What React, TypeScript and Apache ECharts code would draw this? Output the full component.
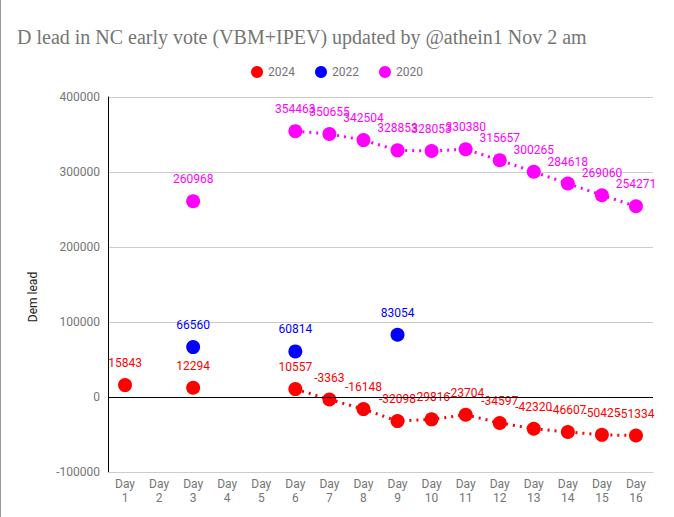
import React, { useEffect, useRef } from "react";
import * as echarts from "echarts";

const days = ["Day\n1","Day\n2","Day\n3","Day\n4","Day\n5","Day\n6","Day\n7","Day\n8","Day\n9","Day\n10","Day\n11","Day\n12","Day\n13","Day\n14","Day\n15","Day\n16"];
const lead2024: (number | null)[] = [15843, null, 12294, null, null, 10557, -3363, -16148, -32098, -29816, -23704, -34597, -42320, -46607, -50425, -51334];
const lead2022: (number | null)[] = [null, null, 66560, null, null, 60814, null, null, 83054, null, null, null, null, null, null, null];
const lead2020: (number | null)[] = [null, null, 260968, null, null, 354463, 350655, 342504, 328853, 328053, 330380, 315657, 300265, 284618, 269060, 254271];

const yTicks = { min: -100000, max: 400000, interval: 100000 };

function mkSeries(name: string, data: (number | null)[], color: string) {
  return {
    name,
    type: "line",
    data,
    connectNulls: false,
    symbol: "circle",
    symbolSize: 14,
    itemStyle: { color },
    lineStyle: { color, width: 3, type: [2, 5] },
    label: {
      show: true,
      position: "top",
      distance: 9,
      color,
      fontFamily: "Roboto",
      fontSize: 12,
    },
    z: 3,
  };
}

export default function App() {
  const ref = useRef<HTMLDivElement>(null);
  useEffect(() => {
    document.body.style.margin = "0";
    const chart = echarts.init(ref.current!, null, { renderer: "svg" });
    chart.setOption({
      animation: false,
      backgroundColor: "#ffffff",
      title: {
        text: "D lead in NC early vote (VBM+IPEV) updated by @athein1 Nov 2 am",
        left: 12,
        top: 22,
        textStyle: { fontFamily: "Liberation Serif", fontWeight: "normal", fontSize: 20, color: "#757575" },
      },
      legend: {
        top: 61,
        left: "center",
        icon: "circle",
        itemWidth: 12,
        itemHeight: 12,
        itemGap: 20,
        textStyle: { fontFamily: "Roboto", fontSize: 12, color: "#757575" },
        data: ["2024", "2022", "2020"],
      },
      grid: { left: 108, right: 21, top: 97, bottom: 45 },
      xAxis: {
        type: "category",
        data: days,
        boundaryGap: true,
        axisLine: { show: true, onZero: false, lineStyle: { color: "#cccccc" } },
        axisTick: { show: false },
        axisLabel: { interval: 0, color: "#757575", fontFamily: "Roboto", fontSize: 12, lineHeight: 14, margin: 5 },
      },
      yAxis: {
        type: "value",
        min: yTicks.min,
        max: yTicks.max,
        interval: yTicks.interval,
        axisLine: { show: true, lineStyle: { color: "#000" } },
        axisTick: { show: false },
        axisLabel: { color: "#757575", fontFamily: "Roboto", fontSize: 12, margin: 8, formatter: (v: number) => String(v) },
        splitLine: { lineStyle: { color: "#cccccc" } },
      },
      series: [
        {
          ...mkSeries("2024", lead2024, "#ff0000"),
          markLine: {
            silent: true,
            symbol: "none",
            label: { show: false },
            lineStyle: { color: "#000", type: "solid", width: 1 },
            data: [{ yAxis: 0 }],
          },
        },
        mkSeries("2022", lead2022, "#0000ff"),
        mkSeries("2020", lead2020, "#ff00ff"),
      ],
      graphic: [
        { type: "line", shape: { x1: 0.5, y1: 0, x2: 0.5, y2: 517 }, style: { stroke: "#999", lineWidth: 1 } },
        {
          type: "text",
          x: 33,
          y: 297,
          rotation: Math.PI / 2,
          style: { text: "Dem lead", fontFamily: "Roboto", fontSize: 12, fill: "#222", align: "center", verticalAlign: "middle" },
        },
      ],
    });
    return () => chart.dispose();
  }, []);
  return <div ref={ref} style={{ width: 674, height: 517, position: "absolute", left: 0, top: 0 }} />;
}
